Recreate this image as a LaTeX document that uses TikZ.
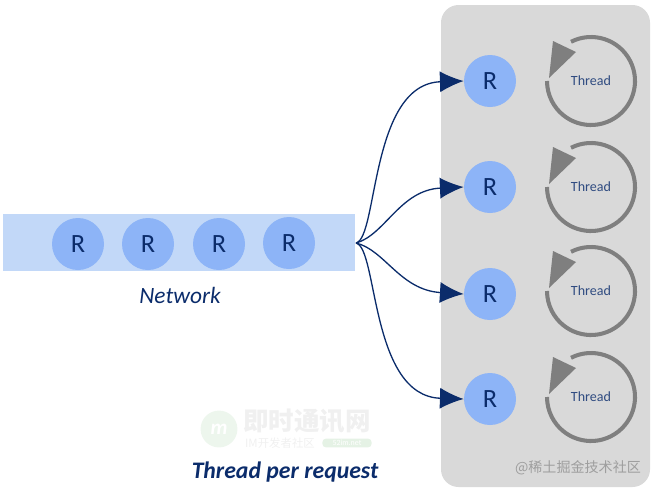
\documentclass[tikz,border=0pt]{standalone}
\usepackage{fontspec}
\setmainfont{Carlito}
\newfontfamily\cjkfont{Noto Sans CJK SC}
\usetikzlibrary{arrows.meta}

\definecolor{navy}{HTML}{0B2C6B}
\definecolor{reqblue}{HTML}{8DB4F7}
\definecolor{netblue}{HTML}{C2D8F8}
\definecolor{panelgray}{HTML}{D9D9D9}
\definecolor{loopgray}{HTML}{7F7F7F}

\tikzset{
	req/.style={circle, fill=reqblue, inner sep=0pt, minimum size=52*0.02cm,
		text=navy, font=\fontsize{15}{15}\selectfont},
	threadlabel/.style={text=navy!85, font=\fontsize{8}{8}\selectfont},
	link/.style={draw=navy, line width=0.75pt, -{Latex[length=13.5pt, width=12pt]}},
	wisp/.style={text=black!6, inner sep=0pt},
}

\begin{document}
\begin{tikzpicture}[x=0.02cm, y=-0.02cm]
	\useasboundingbox (0,0) rectangle (655,491);

	\fill[panelgray, rounded corners=10pt] (441,5) rectangle (650,487);
	\fill[netblue] (3,214) rectangle (355,271);

	\node [req] (n1) at (78,244) {R};
	\node [req] (n2) at (148,244) {R};
	\node [req] (n3) at (219,244) {R};
	\node [req] (n4) at (289,243) {R};

	\node [text=navy, font=\fontsize{13.3}{13.3}\selectfont\itshape] (net) at (180,295) {Network};

	\coordinate (hub) at (356,243);

	\foreach \i/\y/\ty in {1/81/81, 2/187/187, 3/294/291, 4/399/397} {
		\node [req] (r\i) at (490,\y) {R};
		\node [threadlabel] (t\i) at (591,\ty) {Thread};
		\draw[loopgray, line width=2.3pt] (t\i) ++(-117:44)
			arc[start angle=-117, end angle=180, radius=44];
		\fill[loopgray] (t\i) ++(-38,-40) -- ++(23,11) -- ++(-27,26) -- cycle;
	}

	\draw[link] (hub) .. controls (378,238) and (370,84) .. (r1.west);
	\draw[link] (hub) .. controls (385,235) and (400,190) .. (r2.west);
	\draw[link] (hub) .. controls (385,250) and (400,290) .. (r3.west);
	\draw[link] (hub) .. controls (378,248) and (370,396) .. (r4.west);

	\node [text=navy, font=\fontsize{13.5}{13.5}\selectfont\bfseries\itshape] (title) at (285,472) {Thread per request};

	% watermarks
	\node [wisp, font=\fontsize{14.5}{14.5}\selectfont\cjkfont\bfseries] (wm) at (307,421) {即时通讯网};
	\node [wisp, font=\fontsize{6.5}{6.5}\selectfont\cjkfont] (wmsub) at (280,443) {IM开发者社区};
	\node [circle, fill=green!50!black!7, minimum size=21pt, inner sep=0pt, text=white,
		font=\fontsize{12}{12}\selectfont\bfseries\itshape] (wmlogo) at (219,429) {m};
	\node [rounded corners=2pt, fill=green!50!black!10, text=white, inner sep=0pt,
		minimum width=28pt, minimum height=5pt, font=\fontsize{4.5}{4.5}\selectfont] (wmurl) at (347,443) {52im.net};
	\node [text=black!38, inner sep=0pt, font=\fontsize{8}{8}\selectfont\cjkfont] (juejin) at (578,468) {@稀土掘金技术社区};
\end{tikzpicture}
\end{document}
